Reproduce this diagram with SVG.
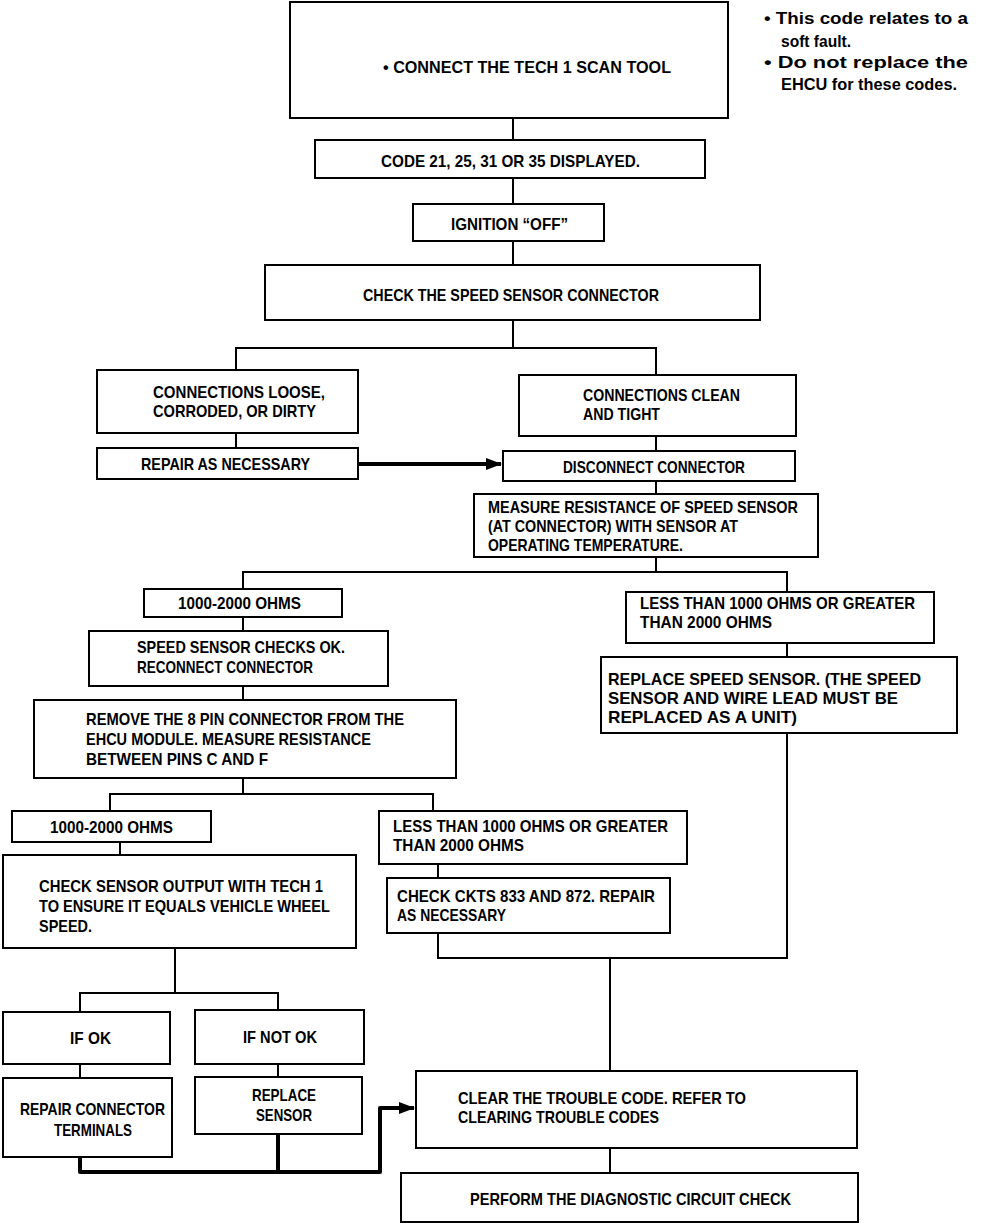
<svg xmlns="http://www.w3.org/2000/svg" width="992" height="1226" viewBox="0 0 992 1226">
<style>
.box{fill:#fff;stroke:#000;stroke-width:2}
.t{font-family:"Liberation Sans",Arial,sans-serif;font-size:17px;font-weight:bold;fill:#000}
.n{font-family:"Liberation Sans",Arial,sans-serif;font-size:16px;font-weight:bold;fill:#000}
.w{stroke:#000;stroke-width:2;fill:none}
.k{stroke:#000;stroke-width:4;fill:none;stroke-linejoin:round}
</style>
<defs>
<marker id="ah" markerUnits="userSpaceOnUse" markerWidth="16" markerHeight="12" refX="15" refY="6" orient="auto">
<path d="M0,0 L16,6 L0,12 Z" fill="#000"/>
</marker>
</defs>
<rect width="992" height="1226" fill="#fff"/>
<g id="connectors">
<line class="w" x1="513" y1="118" x2="513" y2="140"/>
<line class="w" x1="513" y1="178" x2="513" y2="204"/>
<line class="w" x1="513" y1="241" x2="513" y2="265"/>
<polyline class="w" points="513,320 513,348"/>
<polyline class="w" points="236,370 236,348 656,348 656,375"/>
<line class="w" x1="236" y1="433" x2="236" y2="448"/>
<line class="w" x1="656" y1="436" x2="656" y2="451"/>
<line class="k" x1="358" y1="464" x2="501" y2="464" marker-end="url(#ah)"/>
<line class="w" x1="656" y1="481" x2="656" y2="494"/>
<line class="w" x1="656" y1="557" x2="656" y2="572"/>
<polyline class="w" points="243,589 243,572 787,572 787,592"/>
<line class="w" x1="243" y1="617" x2="243" y2="631"/>
<line class="w" x1="243" y1="686" x2="243" y2="700"/>
<line class="w" x1="787" y1="643" x2="787" y2="657"/>
<line class="w" x1="243" y1="778" x2="243" y2="794"/>
<polyline class="w" points="110,811 110,794 433,794 433,811"/>
<line class="w" x1="120" y1="842" x2="120" y2="855"/>
<line class="w" x1="438" y1="864" x2="438" y2="878"/>
<polyline class="w" points="438,933 438,958 787,958 787,733"/>
<line class="w" x1="610" y1="958" x2="610" y2="1071"/>
<line class="w" x1="175" y1="948" x2="175" y2="993"/>
<polyline class="w" points="80,1012 80,993 278,993 278,1010"/>
<line class="w" x1="80" y1="1064" x2="80" y2="1078"/>
<line class="w" x1="278" y1="1064" x2="278" y2="1077"/>
<polyline class="k" points="80,1157 80,1172 380,1172 380,1108 414,1108" marker-end="url(#ah)"/>
<line class="k" x1="278" y1="1134" x2="278" y2="1172"/>
<line class="w" x1="610" y1="1148" x2="610" y2="1173"/>
</g>
<g id="n-connect"><rect class="box" x="290" y="2" width="438" height="116"/>
<text class="t" x="383" y="73" textLength="288" lengthAdjust="spacingAndGlyphs">• CONNECT THE TECH 1 SCAN TOOL</text></g>
<g id="n-note">
<text class="n" x="764" y="24" textLength="204" lengthAdjust="spacingAndGlyphs">• This code relates to a</text>
<text class="n" x="781" y="47" textLength="70" lengthAdjust="spacingAndGlyphs">soft fault.</text>
<text class="n" x="764" y="68" textLength="204" lengthAdjust="spacingAndGlyphs">• Do not replace the</text>
<text class="n" x="781" y="90" textLength="176" lengthAdjust="spacingAndGlyphs">EHCU for these codes.</text>
</g>
<g id="n-code"><rect class="box" x="315" y="140" width="390" height="38"/>
<text class="t" x="381" y="167" textLength="259" lengthAdjust="spacingAndGlyphs">CODE 21, 25, 31 OR 35 DISPLAYED.</text></g>
<g id="n-ign"><rect class="box" x="413" y="204" width="191" height="37"/>
<text class="t" x="451" y="230" textLength="117" lengthAdjust="spacingAndGlyphs">IGNITION “OFF”</text></g>
<g id="n-check"><rect class="box" x="265" y="265" width="495" height="55"/>
<text class="t" x="363" y="301" textLength="296" lengthAdjust="spacingAndGlyphs">CHECK THE SPEED SENSOR CONNECTOR</text></g>
<g id="n-loose"><rect class="box" x="97" y="370" width="261" height="63"/>
<text class="t" x="153" y="398" textLength="172" lengthAdjust="spacingAndGlyphs">CONNECTIONS LOOSE,</text>
<text class="t" x="153" y="417" textLength="163" lengthAdjust="spacingAndGlyphs">CORRODED, OR DIRTY</text></g>
<g id="n-clean"><rect class="box" x="519" y="375" width="277" height="61"/>
<text class="t" x="583" y="401" textLength="157" lengthAdjust="spacingAndGlyphs">CONNECTIONS CLEAN</text>
<text class="t" x="583" y="420" textLength="77" lengthAdjust="spacingAndGlyphs">AND TIGHT</text></g>
<g id="n-repair"><rect class="box" x="97" y="448" width="261" height="31"/>
<text class="t" x="141" y="470" textLength="169" lengthAdjust="spacingAndGlyphs">REPAIR AS NECESSARY</text></g>
<g id="n-disc"><rect class="box" x="503" y="451" width="292" height="30"/>
<text class="t" x="563" y="473" textLength="182" lengthAdjust="spacingAndGlyphs">DISCONNECT CONNECTOR</text></g>
<g id="n-measure"><rect class="box" x="474" y="494" width="344" height="63"/>
<text class="t" x="488" y="513" textLength="310" lengthAdjust="spacingAndGlyphs">MEASURE RESISTANCE OF SPEED SENSOR</text>
<text class="t" x="488" y="532" textLength="250" lengthAdjust="spacingAndGlyphs">(AT CONNECTOR) WITH SENSOR AT</text>
<text class="t" x="488" y="551" textLength="195" lengthAdjust="spacingAndGlyphs">OPERATING TEMPERATURE.</text></g>
<g id="n-ohms1"><rect class="box" x="144" y="589" width="198" height="28"/>
<text class="t" x="178" y="609" textLength="123" lengthAdjust="spacingAndGlyphs">1000-2000 OHMS</text></g>
<g id="n-less1"><rect class="box" x="626" y="592" width="308" height="51"/>
<text class="t" x="640" y="609" textLength="275" lengthAdjust="spacingAndGlyphs">LESS THAN 1000 OHMS OR GREATER</text>
<text class="t" x="640" y="628" textLength="132" lengthAdjust="spacingAndGlyphs">THAN 2000 OHMS</text></g>
<g id="n-ok"><rect class="box" x="89" y="631" width="299" height="55"/>
<text class="t" x="137" y="653" textLength="208" lengthAdjust="spacingAndGlyphs">SPEED SENSOR CHECKS OK.</text>
<text class="t" x="137" y="673" textLength="176" lengthAdjust="spacingAndGlyphs">RECONNECT CONNECTOR</text></g>
<g id="n-replace1"><rect class="box" x="601" y="657" width="356" height="76"/>
<text class="t" x="608" y="685" textLength="313" lengthAdjust="spacingAndGlyphs">REPLACE SPEED SENSOR. (THE SPEED</text>
<text class="t" x="608" y="704" textLength="290" lengthAdjust="spacingAndGlyphs">SENSOR AND WIRE LEAD MUST BE</text>
<text class="t" x="608" y="723" textLength="189" lengthAdjust="spacingAndGlyphs">REPLACED AS A UNIT)</text></g>
<g id="n-remove"><rect class="box" x="34" y="700" width="422" height="78"/>
<text class="t" x="86" y="725" textLength="318" lengthAdjust="spacingAndGlyphs">REMOVE THE 8 PIN CONNECTOR FROM THE</text>
<text class="t" x="86" y="745" textLength="285" lengthAdjust="spacingAndGlyphs">EHCU MODULE. MEASURE RESISTANCE</text>
<text class="t" x="86" y="765" textLength="182" lengthAdjust="spacingAndGlyphs">BETWEEN PINS C AND F</text></g>
<g id="n-ohms2"><rect class="box" x="12" y="811" width="199" height="31"/>
<text class="t" x="50" y="833" textLength="123" lengthAdjust="spacingAndGlyphs">1000-2000 OHMS</text></g>
<g id="n-less2"><rect class="box" x="379" y="811" width="308" height="53"/>
<text class="t" x="393" y="832" textLength="275" lengthAdjust="spacingAndGlyphs">LESS THAN 1000 OHMS OR GREATER</text>
<text class="t" x="393" y="851" textLength="131" lengthAdjust="spacingAndGlyphs">THAN 2000 OHMS</text></g>
<g id="n-ckts"><rect class="box" x="387" y="878" width="283" height="55"/>
<text class="t" x="397" y="902" textLength="258" lengthAdjust="spacingAndGlyphs">CHECK CKTS 833 AND 872. REPAIR</text>
<text class="t" x="397" y="921" textLength="109" lengthAdjust="spacingAndGlyphs">AS NECESSARY</text></g>
<g id="n-output"><rect class="box" x="3" y="855" width="353" height="93"/>
<text class="t" x="39" y="892" textLength="284" lengthAdjust="spacingAndGlyphs">CHECK SENSOR OUTPUT WITH TECH 1</text>
<text class="t" x="39" y="912" textLength="291" lengthAdjust="spacingAndGlyphs">TO ENSURE IT EQUALS VEHICLE WHEEL</text>
<text class="t" x="39" y="932" textLength="53" lengthAdjust="spacingAndGlyphs">SPEED.</text></g>
<g id="n-ifok"><rect class="box" x="3" y="1012" width="167" height="52"/>
<text class="t" x="70" y="1044" textLength="41" lengthAdjust="spacingAndGlyphs">IF OK</text></g>
<g id="n-ifnot"><rect class="box" x="195" y="1010" width="169" height="54"/>
<text class="t" x="243" y="1043" textLength="74" lengthAdjust="spacingAndGlyphs">IF NOT OK</text></g>
<g id="n-term"><rect class="box" x="3" y="1078" width="169" height="79"/>
<text class="t" x="20" y="1115" textLength="145" lengthAdjust="spacingAndGlyphs">REPAIR CONNECTOR</text>
<text class="t" x="54" y="1136" textLength="78" lengthAdjust="spacingAndGlyphs">TERMINALS</text></g>
<g id="n-replace2"><rect class="box" x="195" y="1077" width="167" height="57"/>
<text class="t" x="252" y="1101" textLength="64" lengthAdjust="spacingAndGlyphs">REPLACE</text>
<text class="t" x="256" y="1121" textLength="56" lengthAdjust="spacingAndGlyphs">SENSOR</text></g>
<g id="n-clear"><rect class="box" x="416" y="1071" width="441" height="77"/>
<text class="t" x="458" y="1104" textLength="288" lengthAdjust="spacingAndGlyphs">CLEAR THE TROUBLE CODE. REFER TO</text>
<text class="t" x="458" y="1123" textLength="201" lengthAdjust="spacingAndGlyphs">CLEARING TROUBLE CODES</text></g>
<g id="n-perform"><rect class="box" x="401" y="1173" width="457" height="49"/>
<text class="t" x="470" y="1205" textLength="321" lengthAdjust="spacingAndGlyphs">PERFORM THE DIAGNOSTIC CIRCUIT CHECK</text></g>
</svg>
